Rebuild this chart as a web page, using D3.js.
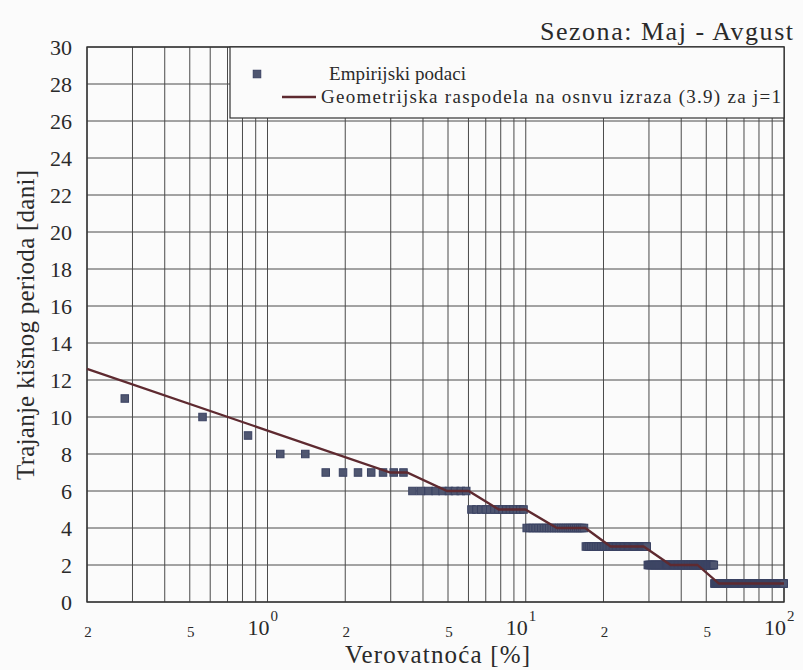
<!DOCTYPE html>
<html>
<head>
<meta charset="utf-8">
<script src="https://cdn.jsdelivr.net/npm/d3@7"></script>
<style>
	body { margin: 0; background: #fbfbfb; }
	svg { display: block; }
</style>
</head>
<body>
<div class="graphic"></div>
<script>
// empirical data: duration of rainy period [days] and how many times it occurred
var durations = [11, 10, 9, 8, 7, 6, 5, 4, 3, 2, 1]
var counts = [1, 1, 1, 2, 7, 9, 14, 25, 45, 86, 165]

// geometric distribution line (vertices)
var fitP = [0.2, 2.99, 3.47, 4.96, 6.01, 7.86, 9.97, 13.2, 17.0, 21.3, 28.6, 36.4, 46.2, 56.0, 100]
var fitY = [12.6, 7, 7, 6, 6, 5, 5, 4, 4, 3, 3, 2, 2, 1, 1]

var yTicks = [0, 2, 4, 6, 8, 10, 12, 14, 16, 18, 20, 22, 24, 26, 28, 30]
var xMinor = [2, 5]
var xDecades = [0, 1, 2]

var titleText = 'Sezona: Maj - Avgust'
var xLabel = 'Verovatnoća [%]'
var yLabel = 'Trajanje kišnog perioda [dani]'
var legendItems = ['Empirijski podaci', 'Geometrijska raspodela na osnvu izraza (3.9) za j=1']

;(function() {
	var width = 803
	var height = 670
	var left = 87
	var right = 784
	var top = 47
	var bottom = 602
	var gridColor = '#4a4a4a'
	var markColor = '#4f5670'
	var markStroke = '#3a4262'
	var lineColor = '#5e2a30'
	var sq = 7.5

	var svg = d3.select('.graphic').append('svg')
		.attr('width', width)
		.attr('height', height)
		.attr('font-family', '"Liberation Serif", "DejaVu Serif", "Times New Roman", serif')
		.attr('fill', '#2a2a2a')

	var x = d3.scaleLog().domain([0.2, 100]).range([left, right])
	var y = d3.scaleLinear().domain([0, 30]).range([bottom, top])

	// empirical exceedance probabilities (Weibull plotting position m/(n+1))
	var n = d3.sum(counts)
	var points = []
	var m = 0
	durations.forEach(function(d, i) {
		for (var k = 0; k < counts[i]; k++) {
			m += 1
			points.push({ p: m / (n + 1) * 100, v: d })
		}
	})

	// grid
	var gridX = []
	for (var e = -1; e < 2; e++) {
		for (var j = 1; j < 10; j++) {
			var v = j * Math.pow(10, e)
			if (v >= 0.2) gridX.push(v)
		}
	}
	gridX.push(100)

	var grid = svg.append('g').attr('stroke', gridColor).attr('stroke-width', 1)
	grid.selectAll('.gx')
		.data(gridX)
		.enter().append('line')
			.attr('x1', function(d) { return x(d) })
			.attr('x2', function(d) { return x(d) })
			.attr('y1', top)
			.attr('y2', bottom)
	grid.selectAll('.gy')
		.data(yTicks)
		.enter().append('line')
			.attr('x1', left)
			.attr('x2', right)
			.attr('y1', function(d) { return y(d) })
			.attr('y2', function(d) { return y(d) })

	svg.append('rect')
		.attr('x', left).attr('y', top)
		.attr('width', right - left).attr('height', bottom - top)
		.attr('fill', 'none')
		.attr('stroke', '#333')
		.attr('stroke-width', 1.4)

	// y tick labels
	svg.append('g').selectAll('text')
		.data(yTicks)
		.enter().append('text')
			.attr('x', 72)
			.attr('y', function(d) { return y(d) })
			.attr('dy', '0.35em')
			.attr('text-anchor', 'end')
			.style('font-size', '22px')
			.text(function(d) { return d })

	// x tick labels: 2 and 5 in each decade, 10^k at decades
	var minorTicks = []
	xDecades.forEach(function(e) {
		xMinor.forEach(function(j) {
			var v = j * Math.pow(10, e - 1)
			if (v >= 0.2 && v <= 100) minorTicks.push(v)
		})
	})
	svg.append('g').selectAll('text')
		.data(minorTicks)
		.enter().append('text')
			.attr('x', function(d) { return x(d) + 1 })
			.attr('y', 637)
			.attr('text-anchor', 'middle')
			.style('font-size', '15px')
			.text(function(d) { return String(d).replace('0.', '').charAt(0) })

	var dec = svg.append('g').selectAll('g')
		.data(xDecades)
		.enter().append('g')
			.attr('transform', function(d) { return 'translate(' + x(Math.pow(10, d)) + ',0)' })
	dec.append('text')
		.attr('x', 2)
		.attr('y', 635)
		.attr('text-anchor', 'end')
		.style('font-size', '22px')
		.text('10')
	dec.append('text')
		.attr('x', 3)
		.attr('y', 621)
		.style('font-size', '15px')
		.text(function(d) { return d })

	// data points
	svg.append('g').selectAll('rect')
		.data(points)
		.enter().append('rect')
			.attr('x', function(d) { return x(d.p) - sq / 2 })
			.attr('y', function(d) { return y(d.v) - sq / 2 })
			.attr('width', sq)
			.attr('height', sq)
			.attr('fill', markColor)
			.attr('stroke', markStroke)
			.attr('stroke-width', 1)

	// fitted line
	var line = d3.line()
		.x(function(d) { return x(d[0]) })
		.y(function(d) { return y(d[1]) })
	svg.append('path')
		.datum(d3.zip(fitP, fitY))
		.attr('d', line)
		.attr('fill', 'none')
		.attr('stroke', lineColor)
		.attr('stroke-width', 2.3)

	// legend
	var lg = svg.append('g')
	lg.append('rect')
		.attr('x', 230).attr('y', top)
		.attr('width', right - 230).attr('height', 118 - top)
		.attr('fill', '#fbfbfb')
		.attr('stroke', '#333')
		.attr('stroke-width', 1.2)
	lg.append('rect')
		.attr('x', 257 - sq / 2).attr('y', 74 - sq / 2)
		.attr('width', sq).attr('height', sq)
		.attr('fill', markColor)
		.attr('stroke', markStroke)
		.attr('stroke-width', 1)
	lg.append('line')
		.attr('x1', 282).attr('x2', 316)
		.attr('y1', 97).attr('y2', 97)
		.attr('stroke', lineColor)
		.attr('stroke-width', 2.3)
	lg.append('text')
		.attr('x', 329).attr('y', 80)
		.attr('textLength', 137)
		.attr('lengthAdjust', 'spacing')
		.style('font-size', '19px')
		.text(legendItems[0])
	lg.append('text')
		.attr('x', 321).attr('y', 103)
		.attr('textLength', 460)
		.attr('lengthAdjust', 'spacing')
		.style('font-size', '19px')
		.text(legendItems[1])

	// titles
	svg.append('text')
		.attr('x', 540).attr('y', 40)
		.attr('textLength', 253)
		.attr('lengthAdjust', 'spacing')
		.style('font-size', '26px')
		.text(titleText)

	svg.append('text')
		.attr('x', 345).attr('y', 663)
		.attr('textLength', 185)
		.attr('lengthAdjust', 'spacing')
		.style('font-size', '25px')
		.text(xLabel)

	svg.append('text')
		.attr('transform', 'translate(34,480) rotate(-90)')
		.attr('textLength', 310)
		.attr('lengthAdjust', 'spacing')
		.style('font-size', '25px')
		.text(yLabel)
})()
</script>
</body>
</html>
